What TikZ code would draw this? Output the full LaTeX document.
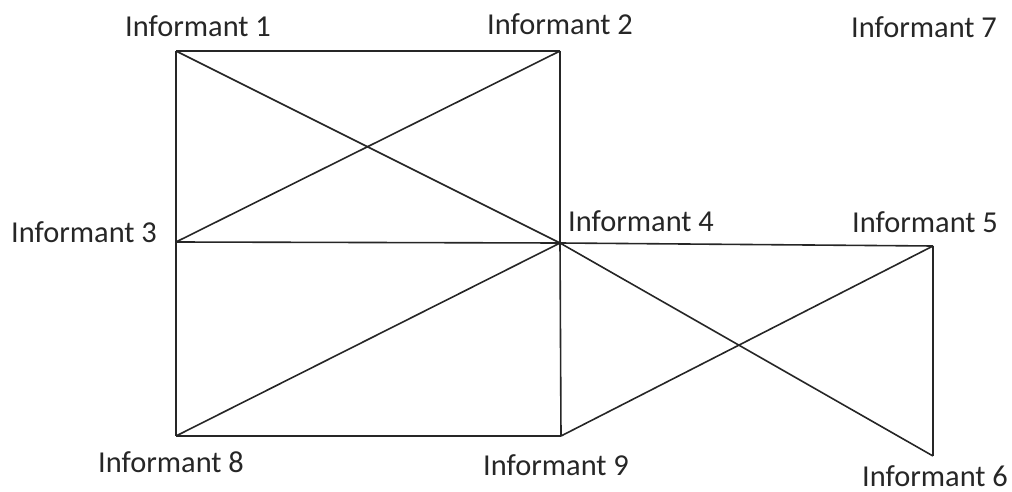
\documentclass[tikz,border=0pt]{standalone}
\usepackage{fontspec}
\setmainfont{Carlito}
\begin{document}
\begin{tikzpicture}[x=1pt,y=-1pt,
  edge/.style={draw=black!85, line width=1.6pt},
  lbl/.style={anchor=base west, inner sep=0pt, text=black!85, font=\fontsize{30.4}{36}\selectfont}]
\useasboundingbox (0,0) rectangle (1012,492);
% vertices
\coordinate (v1) at (176,51);
\coordinate (v2) at (560,51);
\coordinate (v3) at (176,242);
\coordinate (v4) at (560,243);
\coordinate (v5) at (933,246);
\coordinate (v6) at (933,456);
\coordinate (v8) at (176,436);
\coordinate (v9) at (561,436);
% labels
\node[lbl] (l1) at (125,37) {Informant 1};
\node[lbl] (l2) at (487,35) {Informant 2};
\node[lbl] (l7) at (851,38) {Informant 7};
\node[lbl] (l3) at (11,242) {Informant 3};
\node[lbl] (l4) at (568,231) {Informant 4};
\node[lbl] (l5) at (852,232) {Informant 5};
\node[lbl] (l8) at (98,472) {Informant 8};
\node[lbl] (l9) at (483,475) {Informant 9};
\node[lbl] (l6) at (862,486) {Informant 6};
% edges
\draw[edge] (v1) -- (v2);
\draw[edge] (v1) -- (v3);
\draw[edge] (v1) -- (v4);
\draw[edge] (v2) -- (v3);
\draw[edge] (v2) -- (v4);
\draw[edge] (v3) -- (v4);
\draw[edge] (v3) -- (v8);
\draw[edge] (v8) -- (v4);
\draw[edge] (v8) -- (v9);
\draw[edge] (v4) -- (v9);
\draw[edge] (v4) -- (v5);
\draw[edge] (v4) -- (v6);
\draw[edge] (v9) -- (v5);
\draw[edge] (v5) -- (v6);
\end{tikzpicture}
\end{document}
